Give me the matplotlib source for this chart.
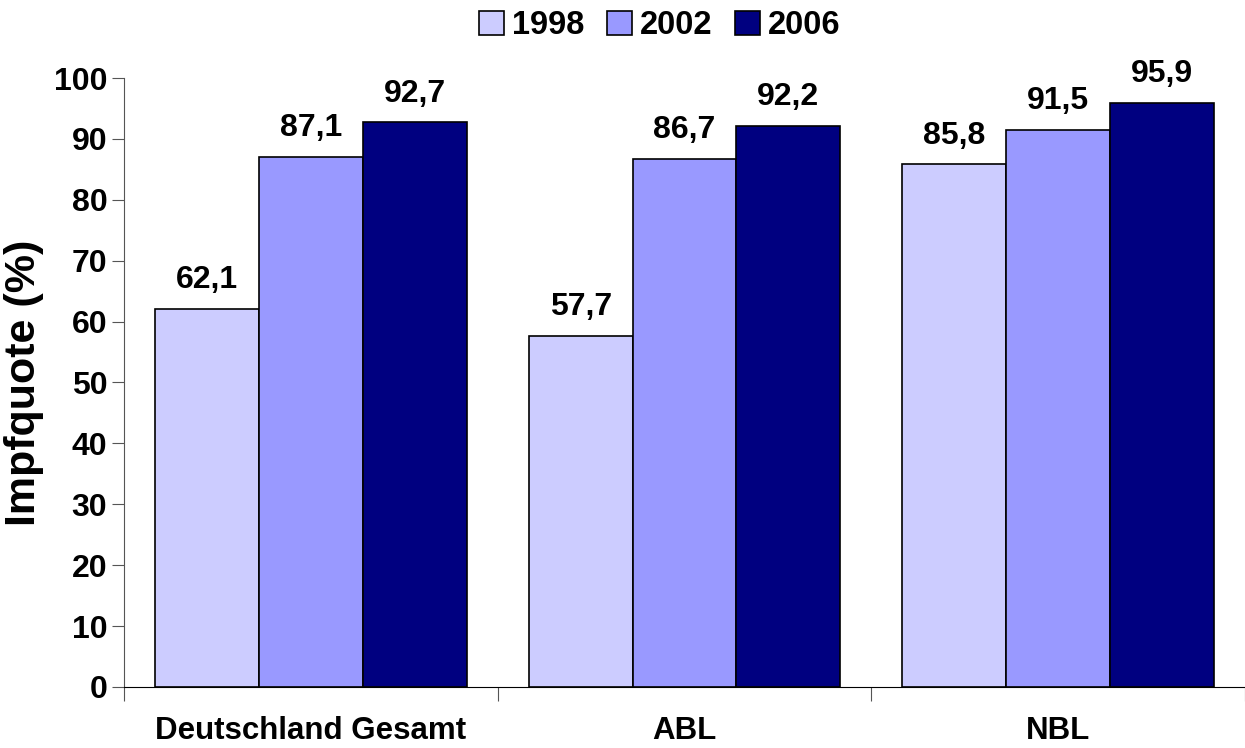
import matplotlib
matplotlib.use("Agg")
import matplotlib.pyplot as plt
import numpy as np

plt.rcParams['font.family'] = ['Liberation Sans', 'DejaVu Sans']
plt.rcParams['font.weight'] = 'bold'

categories = ['Deutschland Gesamt', 'ABL', 'NBL']
years = ['1998', '2002', '2006']
values = {
    '1998': [62.1, 57.7, 85.8],
    '2002': [87.1, 86.7, 91.5],
    '2006': [92.7, 92.2, 95.9],
}
colors = ['#CCCCFF', '#9999FF', '#000080']

fig = plt.figure(figsize=(12.45, 7.48), dpi=100)
ax = fig.add_axes([0.0996, 0.0816, 0.9004, 0.8141])

centers = np.arange(len(categories)) + 0.5
w = 0.278
for i, yr in enumerate(years):
    xs = centers + (i - 1) * w
    ax.bar(xs, values[yr], width=w, color=colors[i], edgecolor='black',
           linewidth=1.2, label=yr)
    for x, v in zip(xs, values[yr]):
        ax.annotate(f'{v:.1f}'.replace('.', ','), (x, v), xytext=(0, 10),
                    textcoords='offset points', ha='center', va='bottom',
                    fontsize=23, fontweight='bold')

ax.set_ylim(0, 100)
ax.set_xlim(0, 2.94)
ax.set_yticks(range(0, 101, 10))
ax.set_xticks([0, 1, 2, 3])
ax.set_xticklabels([])
ax.set_xticks(centers, minor=True)
ax.set_xticklabels(categories, minor=True)
ax.tick_params(axis='x', which='minor', length=0, pad=21, labelsize=22.5)
ax.tick_params(axis='x', which='major', length=10, direction='out', color='#555555')
ax.tick_params(axis='y', length=9, direction='out', labelsize=23, pad=3, color='#555555')
for lab in ax.get_yticklabels() + ax.get_xticklabels(minor=True):
    lab.set_fontweight('bold')

ax.spines['top'].set_visible(False)
ax.spines['right'].set_visible(False)
ax.spines['left'].set_color('#555555')
ax.spines['bottom'].set_color('black')
ax.set_ylabel('Impfquote (%)', fontsize=31, fontweight='bold', labelpad=7)

ax.legend(loc='upper center', bbox_to_anchor=(0.478, 1.16), ncol=3, frameon=False,
          handlelength=0.75, handleheight=0.75, handletextpad=0.25,
          columnspacing=0.7, prop={'weight': 'bold', 'size': 23.5})

fig.savefig('out.png', dpi=100)
